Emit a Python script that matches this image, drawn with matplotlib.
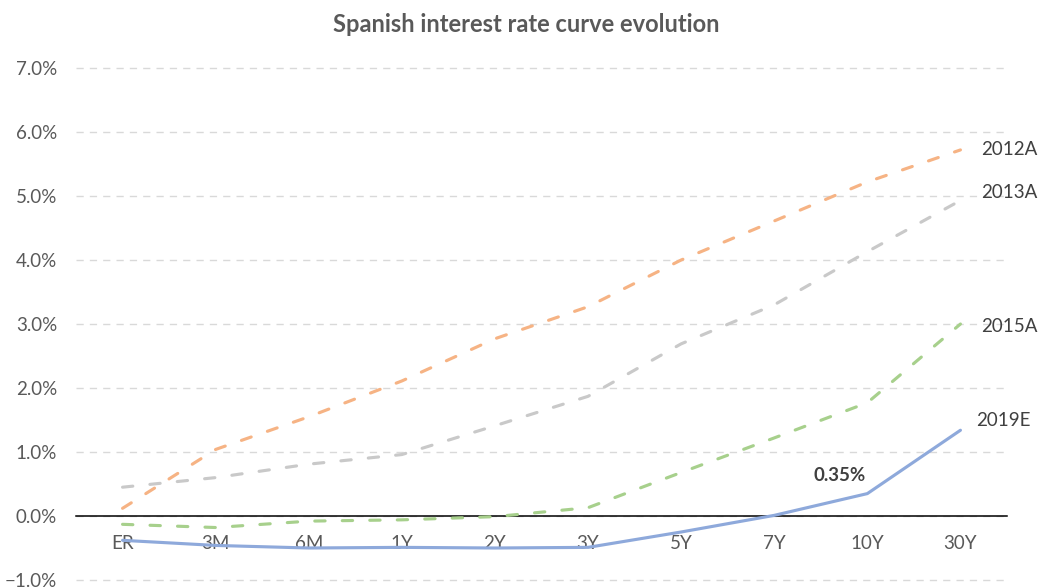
import matplotlib
matplotlib.use("Agg")
import matplotlib.pyplot as plt
from matplotlib.ticker import PercentFormatter, FixedLocator

plt.rcParams['font.family'] = ['Lato', 'DejaVu Sans']

# Spanish government yield curve by tenor (in %)
tenors = ["ER", "3M", "6M", "1Y", "2Y", "3Y", "5Y", "7Y", "10Y", "30Y"]
curve_2012a = [0.12, 1.04, 1.55, 2.11, 2.77, 3.27, 4.00, 4.61, 5.22, 5.72]
curve_2013a = [0.45, 0.60, 0.81, 0.96, 1.41, 1.87, 2.69, 3.30, 4.13, 4.93]
curve_2015a = [-0.13, -0.18, -0.08, -0.06, -0.01, 0.13, 0.68, 1.22, 1.77, 3.00]
curve_2019e = [-0.38, -0.46, -0.50, -0.49, -0.50, -0.49, -0.25, 0.01, 0.35, 1.34]
series_names = ["2012A", "2013A", "2015A", "2019E"]
y_ticks = [-1, 0, 1, 2, 3, 4, 5, 6, 7]
highlight_idx = 8  # 10Y point of the 2019E curve

W, H, DPI = 1040, 587, 100
fig = plt.figure(figsize=(W / DPI, H / DPI), dpi=DPI)
left, right, top, bottom = 76, 1007, 68, 580
ax = fig.add_axes([left / W, 1 - bottom / H, (right - left) / W, (bottom - top) / H])

x = list(range(len(tenors)))
line_style = dict(lw=2.25, dash_capstyle='round', dash_joinstyle='round',
                  solid_capstyle='round', zorder=3)
dashed = (0, (3.3, 5.5))
ax.plot(x, curve_2012a, color="#F6B384", linestyle=dashed, **line_style)
ax.plot(x, curve_2013a, color="#C9C9C9", linestyle=dashed, **line_style)
ax.plot(x, curve_2015a, color="#A7D08C", linestyle=dashed, **line_style)
ax.plot(x, curve_2019e, color="#8EA9DB", linestyle="-", **line_style)

ax.set_xlim(-0.5, len(tenors) - 0.5)
ax.set_ylim(y_ticks[0], y_ticks[-1])
ax.yaxis.set_major_locator(FixedLocator(y_ticks))
ax.yaxis.set_major_formatter(PercentFormatter(xmax=100, decimals=1))
ax.set_xticks(x)
ax.set_xticklabels(tenors)

ax.grid(axis='y', color="#D9D9D9", lw=1.0, linestyle=(0, (5.2, 4.4)))
ax.grid(axis='x', visible=False)
ax.set_axisbelow(True)
for gl in ax.get_ygridlines():
    gl.set_clip_on(False)

for s in ["top", "right", "left"]:
    ax.spines[s].set_visible(False)
ax.spines["bottom"].set_position(("data", 0))
ax.spines["bottom"].set_color("black")
ax.spines["bottom"].set_linewidth(1.1)
ax.spines["bottom"].set_zorder(2.5)

ax.tick_params(axis='x', length=0, pad=14, labelsize=13.5, labelcolor="#595959")
ax.tick_params(axis='y', length=0, pad=13.5, labelsize=13.5, labelcolor="#595959")

# Series names at the right end of each curve
ends = [curve_2012a[-1], curve_2013a[-1], curve_2015a[-1], curve_2019e[-1]]
offsets = [(15, 0), (15, 6), (15, -2), (11, 7)]
for name, yv, off in zip(series_names, ends, offsets):
    ax.annotate(name, (x[-1], yv), xytext=off, textcoords="offset points",
                ha="left", va="center", fontsize=13.5, color="#404040",
                annotation_clip=False)

# Value label for the 10Y point of the 2019E curve
val = curve_2019e[highlight_idx]
ax.annotate(f"{val:.2f}%", (x[highlight_idx], val), xytext=(-20, 13),
            textcoords="offset points", ha="center", va="center",
            fontsize=13.5, fontweight="bold", color="#404040")

fig.text(526 / W, 1 - 25 / H, "Spanish interest rate curve evolution",
         ha="center", va="center", fontsize=17, fontweight="bold", color="#595959")

fig.savefig("out.png", dpi=DPI)
